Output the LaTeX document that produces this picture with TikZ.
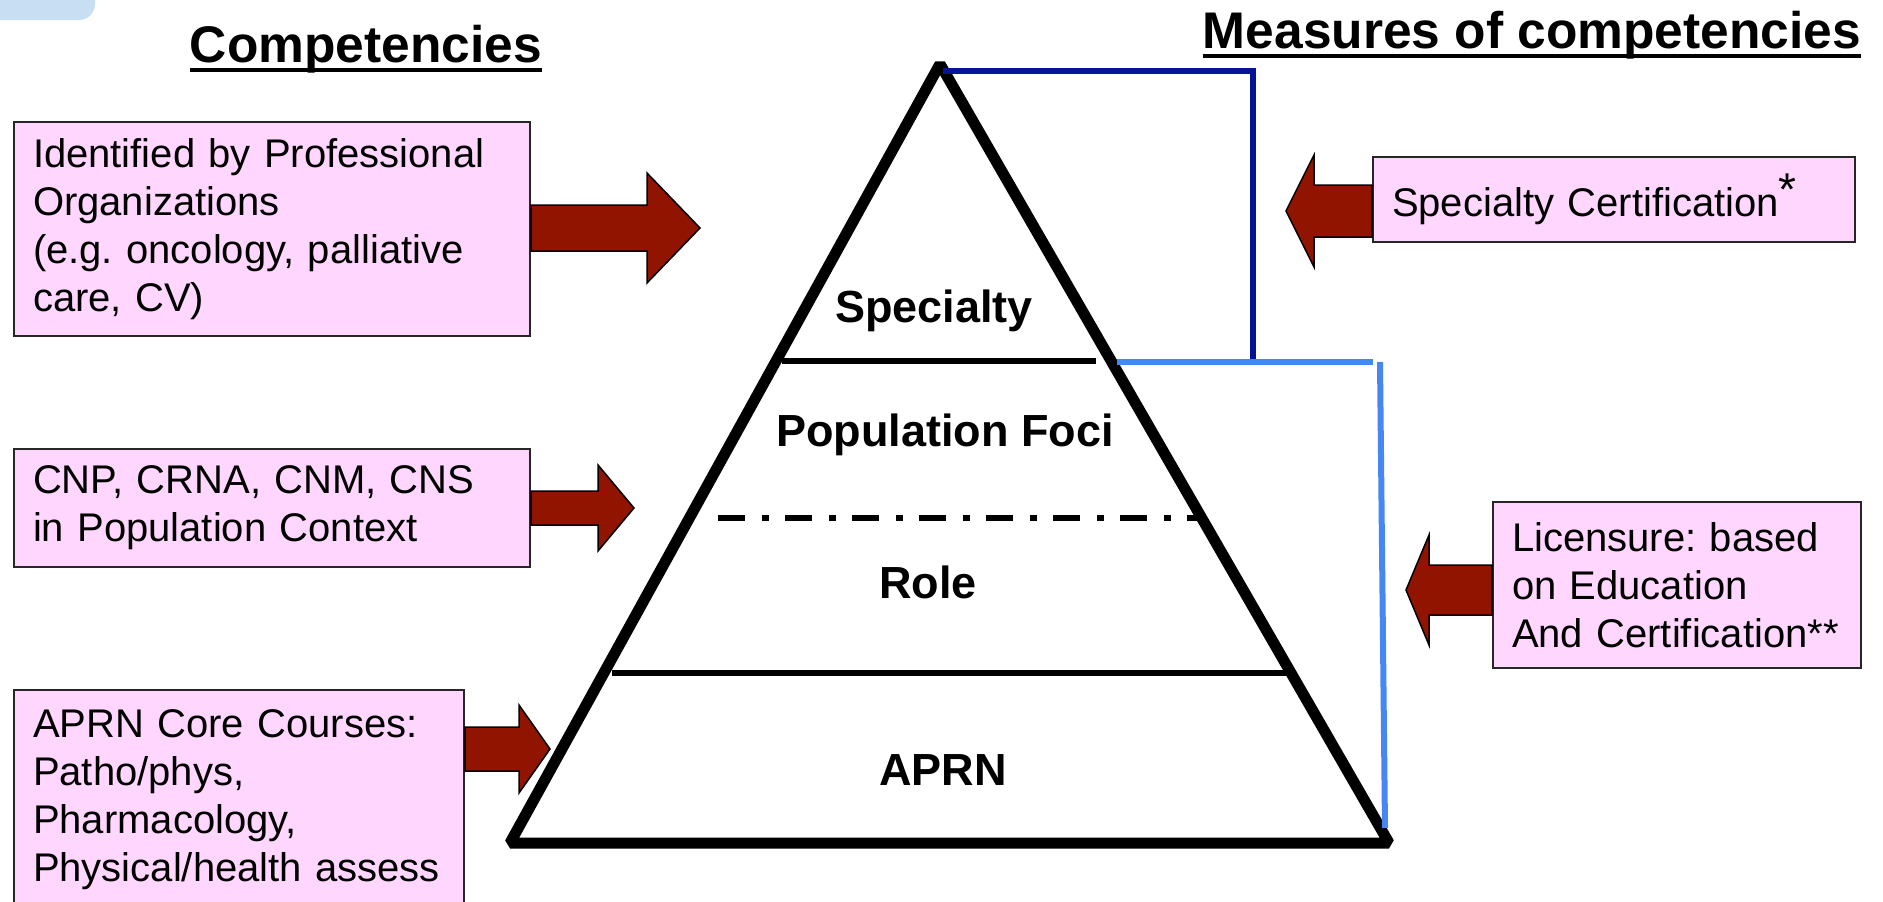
\documentclass[tikz,border=0pt]{standalone}
\usepackage{fontspec}
\setmainfont{Liberation Sans}
\usetikzlibrary{positioning}
\definecolor{boxpink}{RGB}{255,214,253}
\definecolor{arrowred}{RGB}{145,20,0}
\definecolor{navyline}{RGB}{5,20,150}
\definecolor{skyline}{RGB}{70,135,245}
\definecolor{cornerblue}{RGB}{200,222,242}
\frenchspacing
\newcommand{\bodyfont}{\fontsize{40}{48}\selectfont}
\newcommand{\titlefont}{\fontsize{51.5}{60}\selectfont\bfseries}
\newcommand{\layerfont}{\fontsize{45}{54}\selectfont\bfseries}
\tikzset{
  pinkbox/.style={draw=black!85, line width=2, fill=boxpink, inner xsep=19,
    inner ysep=0, align=left, font=\bodyfont},
  fatarrowstyle/.style={draw=black, line width=1.5, fill=arrowred, line join=miter},
  pyramid/.style={line width=11, line join=bevel},
  layerline/.style={line width=5.5},
  layerdash/.style={line width=6.5, dash pattern=on 27 off 17 on 7 off 16},
  layerlabel/.style={font=\layerfont, inner sep=0},
  heading/.style={font=\titlefont, inner sep=0, anchor=base},
  headrule/.style={line width=4}
}
\newcommand{\fatarrow}[5]{
  % #1 tail, #2 head base, #3 tip, #4 half shaft, #5 half head
  \draw[fatarrowstyle, shift={#1}] (0,-#4) -- (#2,-#4) -- (#2,-#5) -- (#3,0)
    -- (#2,#5) -- (#2,#4) -- (0,#4) -- cycle;
}
\begin{document}
\begin{tikzpicture}[x=1pt, y=-1pt]
\useasboundingbox (0,0) rectangle (1883,902);

% corner tab
\fill[cornerblue, rounded corners=16] (-30,-30) rectangle (95,20);

% headings
\node[heading] (comp) at (366,62) {Competencies};
\node[heading] (meas) at (1532,48) {Measures of competencies};
\draw[headrule] ([yshift=-8]comp.base west) -- ([yshift=-8]comp.base east);
\draw[headrule] ([yshift=-8]meas.base west) -- ([yshift=-8]meas.base east);

% pyramid
\coordinate (apex) at (940,64);
\coordinate (bl) at (510,843);
\coordinate (br) at (1389,843);
\draw[pyramid] (apex) -- (bl) -- (br) -- cycle;

\draw[layerline] (782,361) -- (1096,361);
\draw[layerdash] (718,518) -- (1203,518);
\draw[layerline] (612,673) -- (1290,673);

\node[layerlabel] (spec) at (934,311) {Specialty};
\node[layerlabel] (popf) at (945,435) {Population Foci};
\node[layerlabel] (role) at (928,582) {Role};
\node[layerlabel] (aprn) at (943,770) {APRN};

% brackets
\draw[navyline, line width=6] (943,71) -- (1253,71) -- (1253,364);
\draw[skyline, line width=6] (1117,362) -- (1373,362);
\draw[skyline, line width=6] (1380,362) -- (1385,828);

% left boxes
\node[pinkbox, text width=478, minimum height=214] (idprof) at (272,229)
  {Identified by Professional\\Organizations\\(e.g. oncology, palliative\\care, CV)};
\node[pinkbox, text width=478, minimum height=118] (popctx) at (272,508)
  {CNP, CRNA, CNM, CNS\\in Population Context};
\node[pinkbox, text width=412, minimum height=220] (core) at (239,800)
  {APRN Core Courses:\\Patho/phys,\\Pharmacology,\\Physical/health assess};

% right boxes
\node[pinkbox, text width=444, minimum height=85] (cert) at (1614,199.5)
  {Specialty Certification\raisebox{.28em}{\fontsize{46}{48}\selectfont*}};
\node[pinkbox, text width=330, minimum height=166] (lic) at (1677,585)
  {Licensure: based\\on Education\\And Certification**};

% arrows
\fatarrow{(idprof.east |- 0,228)}{116}{169}{23}{55}
\fatarrow{(popctx.east |- 0,508)}{67}{103}{17}{43}
\fatarrow{(core.east |- 0,749)}{54}{85}{22}{44}
\fatarrow{(cert.west |- 0,211)}{-58}{-86}{26}{56}
\fatarrow{(lic.west |- 0,590)}{-63}{-86}{25}{55}
\end{tikzpicture}
\end{document}
